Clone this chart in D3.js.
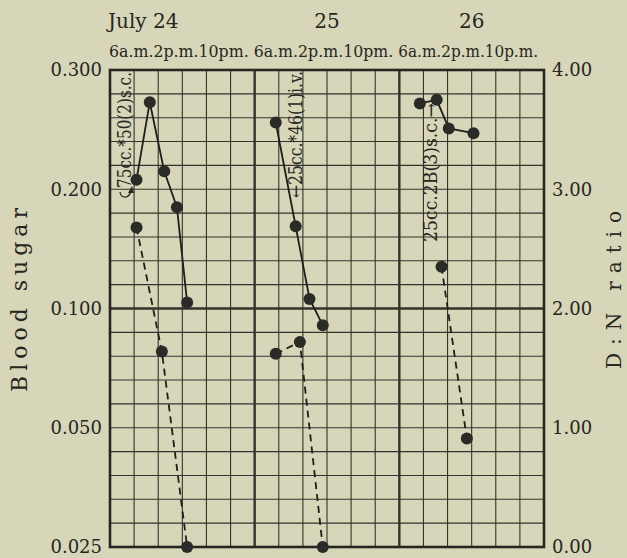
<!DOCTYPE html>
<html>
<head>
<meta charset="utf-8">
<script src="https://cdn.jsdelivr.net/npm/d3@7"></script>
<style>
  html, body { margin: 0; padding: 0; background: #d7d6b8; }
  svg { display: block; }
  text { font-family: "DejaVu Serif", serif; fill: #262622; }
</style>
</head>
<body>
<svg id="chart" width="627" height="558"></svg>
<script>
// day / hour labels along the top
const dayLabels = ["July 24", "25", "26"];
const hourLabels = ["6a.m.2p.m.10pm.", "6a.m.2p.m.10pm.", "6a.m.2p.m.10p.m."];

// left axis (blood sugar, equally spaced labels) and right axis (D:N ratio)
const sugarTicks = [0.025, 0.05, 0.1, 0.2, 0.3];
const ratioTicks = [0, 1, 2, 3, 4];

// hours counted from 6 a.m. July 24
// blood sugar, solid lines, one run per day
const sugarHours1 = [4.4, 6.6, 9.0, 11.1, 12.8];
const sugarValues1 = [0.208, 0.273, 0.215, 0.185, 0.105];
const sugarHours2 = [27.5, 30.8, 33.1, 35.3];
const sugarValues2 = [0.256, 0.169, 0.108, 0.093];
const sugarHours3 = [51.4, 54.2, 56.2, 60.3];
const sugarValues3 = [0.272, 0.275, 0.251, 0.247];

// D:N ratio, dashed lines
const ratioHours1 = [4.4, 8.6, 12.8];
const ratioValues1 = [2.68, 1.64, 0.0];
const ratioHours2 = [27.5, 31.5, 35.3];
const ratioValues2 = [1.62, 1.72, 0.0];
const ratioHours3 = [55.0, 59.2];
const ratioValues3 = [2.35, 0.91];

// injection notes
const notes = ["75cc.*50(2)s.c.", "\u219025cc.*46(1)i.v.", "25cc.2B(3)s.c.\u2192"];

const svg = d3.select("#chart");
const plotLeft = 110, plotRight = 544, plotTop = 70, plotBottom = 547;

const x = d3.scaleLinear().domain([0, 72]).range([plotLeft, plotRight]);
const yRatio = d3.scaleLinear().domain([0, 4]).range([plotBottom, plotTop]);
// piecewise scale: each printed sugar value sits on its own major line
const ySugar = d3.scaleLinear()
    .domain(sugarTicks)
    .range(sugarTicks.map((d, i) => plotBottom - i * (plotBottom - plotTop) / (sugarTicks.length - 1)));

// grid
const grid = svg.append("g");
grid.selectAll("line.v")
    .data(d3.range(4, 72, 4))
    .join("line")
    .attr("x1", d => x(d)).attr("x2", d => x(d))
    .attr("y1", plotTop).attr("y2", plotBottom)
    .attr("stroke", "#33332e")
    .attr("stroke-width", d => d % 24 === 0 ? 2.4 : 1.1);
grid.selectAll("line.h")
    .data(d3.range(1, 20))
    .join("line")
    .attr("x1", plotLeft).attr("x2", plotRight)
    .attr("y1", d => yRatio(d * 0.2)).attr("y2", d => yRatio(d * 0.2))
    .attr("stroke", "#33332e")
    .attr("stroke-width", d => d === 10 ? 2.4 : 1.1);
grid.append("rect")
    .attr("x", plotLeft).attr("y", plotTop)
    .attr("width", plotRight - plotLeft).attr("height", plotBottom - plotTop)
    .attr("fill", "none").attr("stroke", "#262622").attr("stroke-width", 2.6);

// axes
const leftAxis = svg.append("g")
    .attr("transform", `translate(${plotLeft},0)`)
    .call(d3.axisLeft(ySugar).tickValues(sugarTicks).tickFormat(d3.format(".3f")).tickSize(0).tickPadding(8));
const rightAxis = svg.append("g")
    .attr("transform", `translate(${plotRight},0)`)
    .call(d3.axisRight(yRatio).tickValues(ratioTicks).tickFormat(d3.format(".2f")).tickSize(0).tickPadding(8));
[leftAxis, rightAxis].forEach(a => {
    a.select(".domain").remove();
    a.selectAll("text").attr("font-family", "DejaVu Serif").attr("font-size", 18).attr("fill", "#262622");
});

// top labels
svg.selectAll("text.day")
    .data(dayLabels)
    .join("text")
    .attr("x", (d, i) => i === 0 ? x(0) - 2 : x(i * 24 + 12))
    .attr("y", 28)
    .attr("text-anchor", (d, i) => i === 0 ? "start" : "middle")
    .attr("font-size", 20)
    .text(d => d);
svg.selectAll("text.hour")
    .data(hourLabels)
    .join("text")
    .attr("x", (d, i) => x(i * 24) - 1)
    .attr("y", 57)
    .attr("font-size", 16)
    .attr("textLength", (d, i) => x(24) - x(0) - 5)
    .attr("lengthAdjust", "spacingAndGlyphs")
    .text(d => d);

// axis titles
svg.append("text")
    .attr("transform", "translate(27,300) rotate(-90)")
    .attr("text-anchor", "middle")
    .attr("font-size", 22)
    .attr("textLength", 184).attr("lengthAdjust", "spacing")
    .text("Blood sugar");
svg.append("text")
    .attr("transform", "translate(621,290) rotate(-90)")
    .attr("text-anchor", "middle")
    .attr("font-size", 20)
    .attr("textLength", 158).attr("lengthAdjust", "spacing")
    .text("D:N ratio");

// data lines
const sugarRuns = [[sugarHours1, sugarValues1], [sugarHours2, sugarValues2], [sugarHours3, sugarValues3]]
    .map(([h, v]) => h.map((d, i) => [d, v[i]]));
const ratioRuns = [[ratioHours1, ratioValues1], [ratioHours2, ratioValues2], [ratioHours3, ratioValues3]]
    .map(([h, v]) => h.map((d, i) => [d, v[i]]));

const sugarLine = d3.line().x(d => x(d[0])).y(d => ySugar(d[1]));
const ratioLine = d3.line().x(d => x(d[0])).y(d => yRatio(d[1]));

svg.selectAll("path.ratio")
    .data(ratioRuns)
    .join("path")
    .attr("d", ratioLine)
    .attr("fill", "none").attr("stroke", "#1e1e1c")
    .attr("stroke-width", 1.8).attr("stroke-dasharray", "7,5");
svg.selectAll("path.sugar")
    .data(sugarRuns)
    .join("path")
    .attr("d", sugarLine)
    .attr("fill", "none").attr("stroke", "#1e1e1c").attr("stroke-width", 1.8);

svg.selectAll("circle.ratio")
    .data(ratioRuns.flat())
    .join("circle")
    .attr("cx", d => x(d[0])).attr("cy", d => yRatio(d[1]))
    .attr("r", 6).attr("fill", "#2a2a27");
svg.selectAll("circle.sugar")
    .data(sugarRuns.flat())
    .join("circle")
    .attr("cx", d => x(d[0])).attr("cy", d => ySugar(d[1]))
    .attr("r", 6).attr("fill", "#2a2a27");

// injection notes, written upward
const notePos = [[131, 188, 116], [302, 198, 127], [437, 242, 139]];
svg.selectAll("text.note")
    .data(notes)
    .join("text")
    .attr("transform", (d, i) => `translate(${notePos[i][0]},${notePos[i][1]}) rotate(-90)`)
    .attr("font-size", 18)
    .attr("textLength", (d, i) => notePos[i][2])
    .attr("lengthAdjust", "spacingAndGlyphs")
    .text(d => d);

// small hooked arrow under the first note
svg.append("path")
    .attr("d", "M120,192 C121,199 129,199 131,191")
    .attr("fill", "none").attr("stroke", "#262622").attr("stroke-width", 1.3);
svg.append("path")
    .attr("d", "M132,186 L128,193 L134,193 Z")
    .attr("fill", "#262622");
</script>
</body>
</html>
